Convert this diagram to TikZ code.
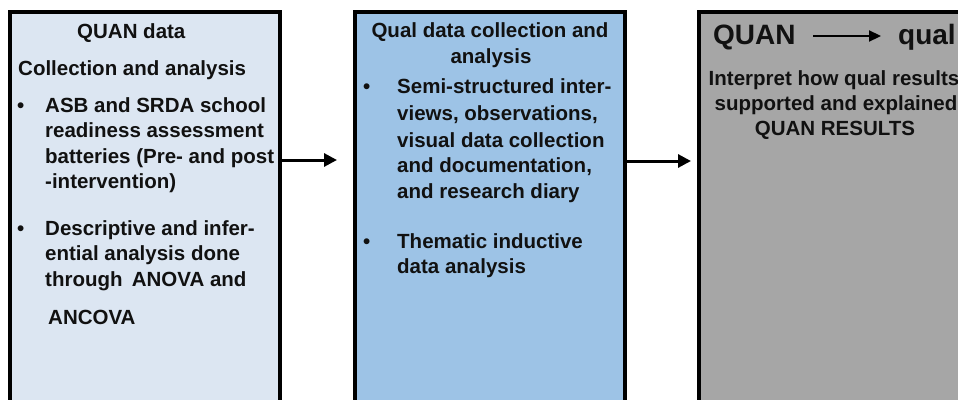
\documentclass[tikz,border=0pt]{standalone}
\usepackage{fontspec}
\setmainfont{Liberation Sans}
\usetikzlibrary{arrows.meta}
\definecolor{boxA}{HTML}{DCE6F2}
\definecolor{boxB}{HTML}{9DC3E6}
\definecolor{boxC}{HTML}{A6A6A6}
\definecolor{ink}{HTML}{111111}
\begin{document}
\begin{tikzpicture}[x=1pt,y=-1pt,
  panel/.style={draw=black, line width=3.5pt, inner sep=0pt, outer sep=0pt, anchor=north west},
  txt/.style={inner sep=0pt, anchor=base west, text=ink, font=\fontsize{20.5}{24}\selectfont\bfseries},
  ctxt/.style={txt, anchor=base},
  bigtxt/.style={txt, font=\fontsize{28}{32}\selectfont\bfseries},
  flow/.style={line width=3pt, -{Triangle[length=13pt,width=13pt]}},
  smallflow/.style={line width=2.2pt, -{Triangle[length=12pt,width=11pt]}}]
\useasboundingbox (0,0) rectangle (958,399);
\clip (0,0) rectangle (958,399);
% panels
\node[panel, fill=boxA, minimum width=270pt, minimum height=430pt] (box1) at (10,12) {};
\node[panel, fill=boxB, minimum width=270pt, minimum height=430pt] (box2) at (355,12) {};
\node[panel, fill=boxC, minimum width=320pt, minimum height=430pt] (box3) at (699,12) {};
% connectors
\coordinate (e1) at (337,160);
\coordinate (e2) at (691,161);
\draw[flow] (box1.east |- e1) -- (e1);
\draw[flow] (box2.east |- e2) -- (e2);
% box 1 text
\node[txt] (t1a) at (77,38) {QUAN data};
\node[txt] (t1b) at (18,75) {Collection and analysis};
\node[txt] (b1a) at (17,112) {•};
\node[txt] (t1c) at (45,112) {ASB and SRDA school};
\node[txt] (t1d) at (45,137) {readiness assessment};
\node[txt] (t1e) at (45,163) {batteries (Pre- and post};
\node[txt] (t1f) at (45,188) {-intervention)};
\node[txt] (b1b) at (17,235) {•};
\node[txt] (t1g) at (45,235) {Descriptive and infer-};
\node[txt] (t1h) at (45,260) {ential analysis done};
\node[txt] (t1i) at (45,286) {through\hspace{0.45em}ANOVA and};
\node[txt] (t1j) at (48,324) {ANCOVA};
% box 2 text
\node[ctxt] (t2a) at (490,37) {Qual data collection and};
\node[ctxt] (t2b) at (491,63) {analysis};
\node[txt] (b2a) at (363,93) {•};
\node[txt] (t2c) at (397,93) {Semi-structured inter-};
\node[txt] (t2d) at (397,120) {views, observations,};
\node[txt] (t2e) at (397,147) {visual data collection};
\node[txt] (t2f) at (397,172) {and documentation,};
\node[txt] (t2g) at (397,198) {and research diary};
\node[txt] (b2b) at (363,248) {•};
\node[txt] (t2h) at (397,248) {Thematic inductive};
\node[txt] (t2i) at (397,273) {data analysis};
% box 3 text
\node[bigtxt] (t3a) at (713,44) {QUAN};
\node[bigtxt] (t3b) at (898,44) {qual};
\coordinate (q1) at (813,36);
\coordinate (q2) at (881,36);
\draw[smallflow] (q1) -- (q2);
\node[ctxt] (t3c) at (834,85) {Interpret how qual results};
\node[ctxt] (t3d) at (836,110) {supported and explained};
\node[ctxt] (t3e) at (835,135) {QUAN RESULTS};
\end{tikzpicture}
\end{document}
